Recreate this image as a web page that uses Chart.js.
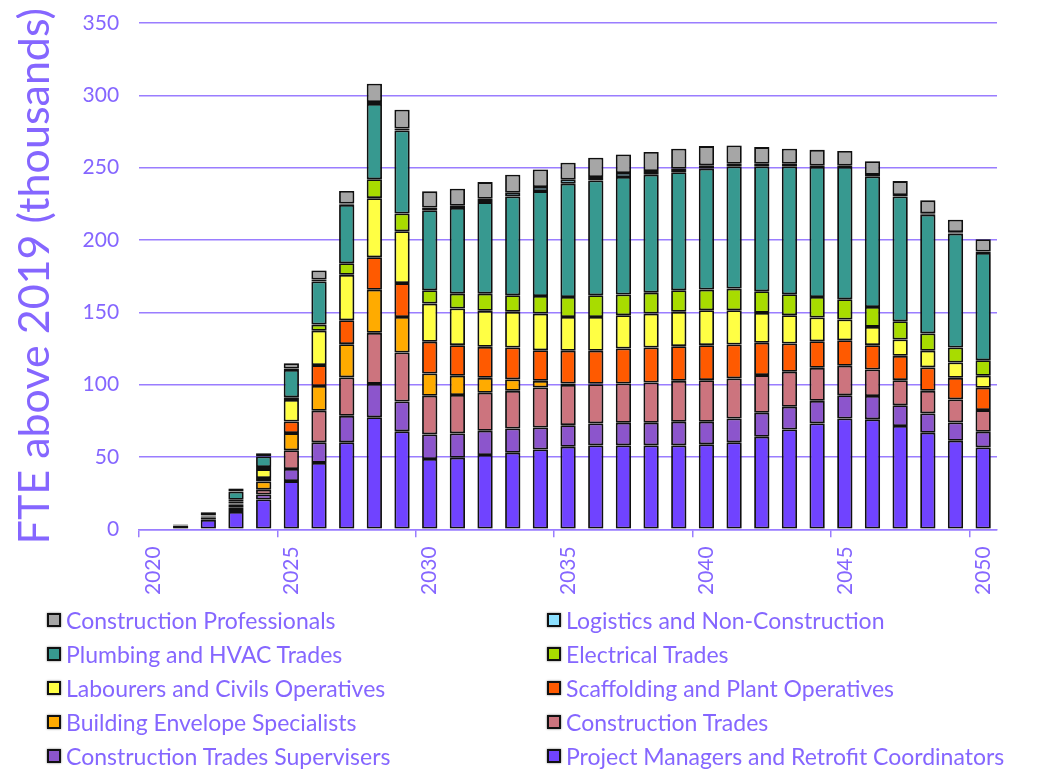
<!DOCTYPE html>
<html>
<head>
<meta charset="utf-8">
<script src="https://cdn.jsdelivr.net/npm/chart.js@4.4.1/dist/chart.umd.min.js"></script>
<style>
  body { margin: 0; background: #ffffff; }
  #wrap { position: relative; width: 1037px; height: 772px; }
  #legend { position: absolute; left: 47px; top: 603px; display: grid; grid-template-columns: 500px 480px; grid-auto-rows: 34px; font-family: Lato, sans-serif; font-size: 23px; color: #8566ff; }
  .item { display: flex; align-items: center; white-space: nowrap; }
  .box { width: 14px; height: 14px; box-sizing: border-box; border: 2px solid #111; margin-right: 5px; box-shadow: 0 0 2px #777; }
</style>
</head>
<body>
<div id="wrap">
  <canvas id="c"></canvas>
  <div id="legend"></div>
</div>
<script>
const years = ["2020","2021","2022","2023","2024","2025","2026","2027","2028","2029","2030","2031","2032","2033","2034","2035","2036","2037","2038","2039","2040","2041","2042","2043","2044","2045","2046","2047","2048","2049","2050"];

const projectManagers = [0,2.6,6.4,11.9,20.6,33.3,45.9,60.1,77.5,67.7,48.6,49.5,51.3,52.9,55.2,57.1,58.0,58.0,58.0,58.0,58.7,60.1,64.0,69.0,73.2,76.6,76.0,71.4,66.7,61.2,56.6];
const supervisers = [0,0.2,0.6,1.5,3.4,8.4,14.2,18.3,23.0,20.6,17.0,16.8,16.8,16.8,15.2,14.9,15.2,15.6,15.6,16.3,15.6,16.5,16.6,15.7,15.6,16.1,16.1,14.3,13.4,12.7,10.8];
const constructionTrades = [0,0.2,0.8,1.5,3.4,12.9,21.8,26.6,35.3,33.9,26.7,26.5,26.3,26.0,27.6,27.7,27.1,27.2,27.9,28.3,28.8,27.7,26.0,24.2,22.8,20.3,18.4,17.4,15.6,15.9,15.0];
const buildingEnvelope = [0,0.1,0.6,2.0,5.7,11.9,17.2,23.0,29.8,24.6,15.4,13.3,10.3,7.9,4.6,1.1,0.3,0,0,0,0,0,0,0,0,0,0,0,0,0,0];
const scaffolding = [0,0.1,0.5,1.0,2.3,8.0,14.4,16.5,22.5,23.4,21.9,21.2,21.4,22.1,21.2,22.6,22.8,24.2,24.2,24.0,24.2,23.4,22.3,19.5,18.4,17.7,16.8,16.8,16.2,14.9,15.4];
const labourers = [0,0.1,0.5,1.5,6.2,14.9,23.7,31.4,40.8,35.8,26.4,25.3,24.9,24.6,25.3,23.4,23.4,23.0,23.4,23.7,24.1,23.7,20.7,19.6,16.4,14.3,12.6,11.3,11.5,10.6,8.3];
const electrical = [0,0,0.3,1.0,1.4,1.9,4.3,8.0,13.1,12.3,9.2,10.3,11.9,11.5,12.2,13.8,15.0,14.3,14.5,14.9,14.3,15.0,15.0,14.5,14.2,14.0,13.8,12.6,12.0,10.4,10.8];
const plumbing = [0,0.2,1.5,5.5,7.3,18.8,29.8,40.4,52.0,57.4,55.3,59.2,63.3,68.3,72.5,78.3,79.4,81.2,81.5,81.7,83.6,84.5,86.3,88.4,89.8,91.4,90.3,86.3,82.1,78.7,74.1];
const logistics = [0,0,0.2,0.3,0.3,1.1,1.4,0.9,1.4,1.4,2.0,1.5,2.3,2.6,2.8,2.8,2.3,2.8,2.5,2.3,2.3,1.8,1.8,1.8,1.0,1.0,1.0,1.0,1.0,1.0,1.0];
const professionals = [0,0.2,0.6,2.0,2.0,3.5,6.2,8.7,12.6,13.0,11.1,11.8,11.5,12.4,12.2,11.7,13.3,12.8,13.2,13.9,13.3,12.7,11.5,10.4,10.9,10.1,9.5,9.6,8.9,8.6,8.5];

const seriesNames = ["Project Managers and Retrofit Coordinators","Construction Trades Supervisers","Construction Trades","Building Envelope Specialists","Scaffolding and Plant Operatives","Labourers and Civils Operatives","Electrical Trades","Plumbing and HVAC Trades","Logistics and Non-Construction","Construction Professionals"];
const seriesValues = [projectManagers,supervisers,constructionTrades,buildingEnvelope,scaffolding,labourers,electrical,plumbing,logistics,professionals];
const seriesColors = ["#7043ff","#8c55cc","#cc747e","#ffab00","#ff5a00","#ffff44","#a8dc00","#379990","#8ce0ff","#a6a6a6"];
const yTicks = [0,50,100,150,200,250,300,350];

const TEXT = "#8566ff";
const GRID = "#9a7dff";
const FONT = "Lato, sans-serif";

const datasets = seriesNames.map((n, i) => ({
  label: n,
  data: seriesValues[i],
  backgroundColor: seriesColors[i],
  borderColor: "#111111",
  borderWidth: 1.8,
  borderSkipped: false,
  barPercentage: 0.55,
  categoryPercentage: 1.0
}));

const shadowPlugin = {
  id: "barShadow",
  beforeDatasetsDraw(chart) {
    const ctx = chart.ctx;
    ctx.save();
    ctx.shadowColor = "rgba(0,0,0,0.35)";
    ctx.shadowBlur = 3;
    ctx.shadowOffsetX = 0.5;
    ctx.shadowOffsetY = 0.5;
  },
  afterDatasetsDraw(chart) { chart.ctx.restore(); }
};

const chart = new Chart(document.getElementById("c"), {
  type: "bar",
  data: { labels: years, datasets },
  plugins: [shadowPlugin],
  options: {
    responsive: true,
    maintainAspectRatio: false,
    animation: false,
    layout: { padding: { left: 0, top: 23, right: 40, bottom: 168 } },
    plugins: { legend: { display: false }, tooltip: { enabled: false } },
    scales: {
      x: {
        stacked: true,
        grid: {
          offset: true,
          drawOnChartArea: false,
          drawTicks: true,
          tickLength: 8,
          lineWidth: 1.5,
          color: (ctx) => (ctx.index !== undefined && ctx.type === "tick" && ctx.index % 5 === 0) ? GRID : "rgba(0,0,0,0)"
        },
        border: { display: true, color: GRID, width: 1.5 },
        ticks: {
          autoSkip: false,
          minRotation: 90,
          maxRotation: 90,
          padding: 9,
          color: TEXT,
          font: { family: FONT, size: 21 },
          callback: function (v, i) { return (Number(years[i]) % 5 === 0) ? years[i] : ""; }
        }
      },
      y: {
        stacked: true,
        min: yTicks[0],
        max: yTicks[yTicks.length - 1],
        afterBuildTicks: (axis) => { axis.ticks = yTicks.map(v => ({ value: v })); },
        afterFit: (axis) => { axis.paddingTop = 12; axis.paddingBottom = 12; },
        grid: { color: GRID, lineWidth: 1.5, drawTicks: false },
        border: { display: false },
        ticks: { padding: 20, color: TEXT, font: { family: FONT, size: 21 } },
        title: {
          display: true,
          text: "FTE above 2019 (thousands)",
          color: TEXT,
          font: { family: FONT, size: 43 },
          padding: { top: 9, bottom: 2 }
        }
      }
    }
  }
});

// HTML legend: two columns, top of stack first
const legend = document.getElementById("legend");
for (let i = datasets.length - 1; i >= 0; i--) {
  const it = document.createElement("div");
  it.className = "item";
  const b = document.createElement("span");
  b.className = "box";
  b.style.background = datasets[i].backgroundColor;
  const t = document.createElement("span");
  t.textContent = datasets[i].label;
  it.appendChild(b); it.appendChild(t);
  legend.appendChild(it);
}
</script>
</body>
</html>
